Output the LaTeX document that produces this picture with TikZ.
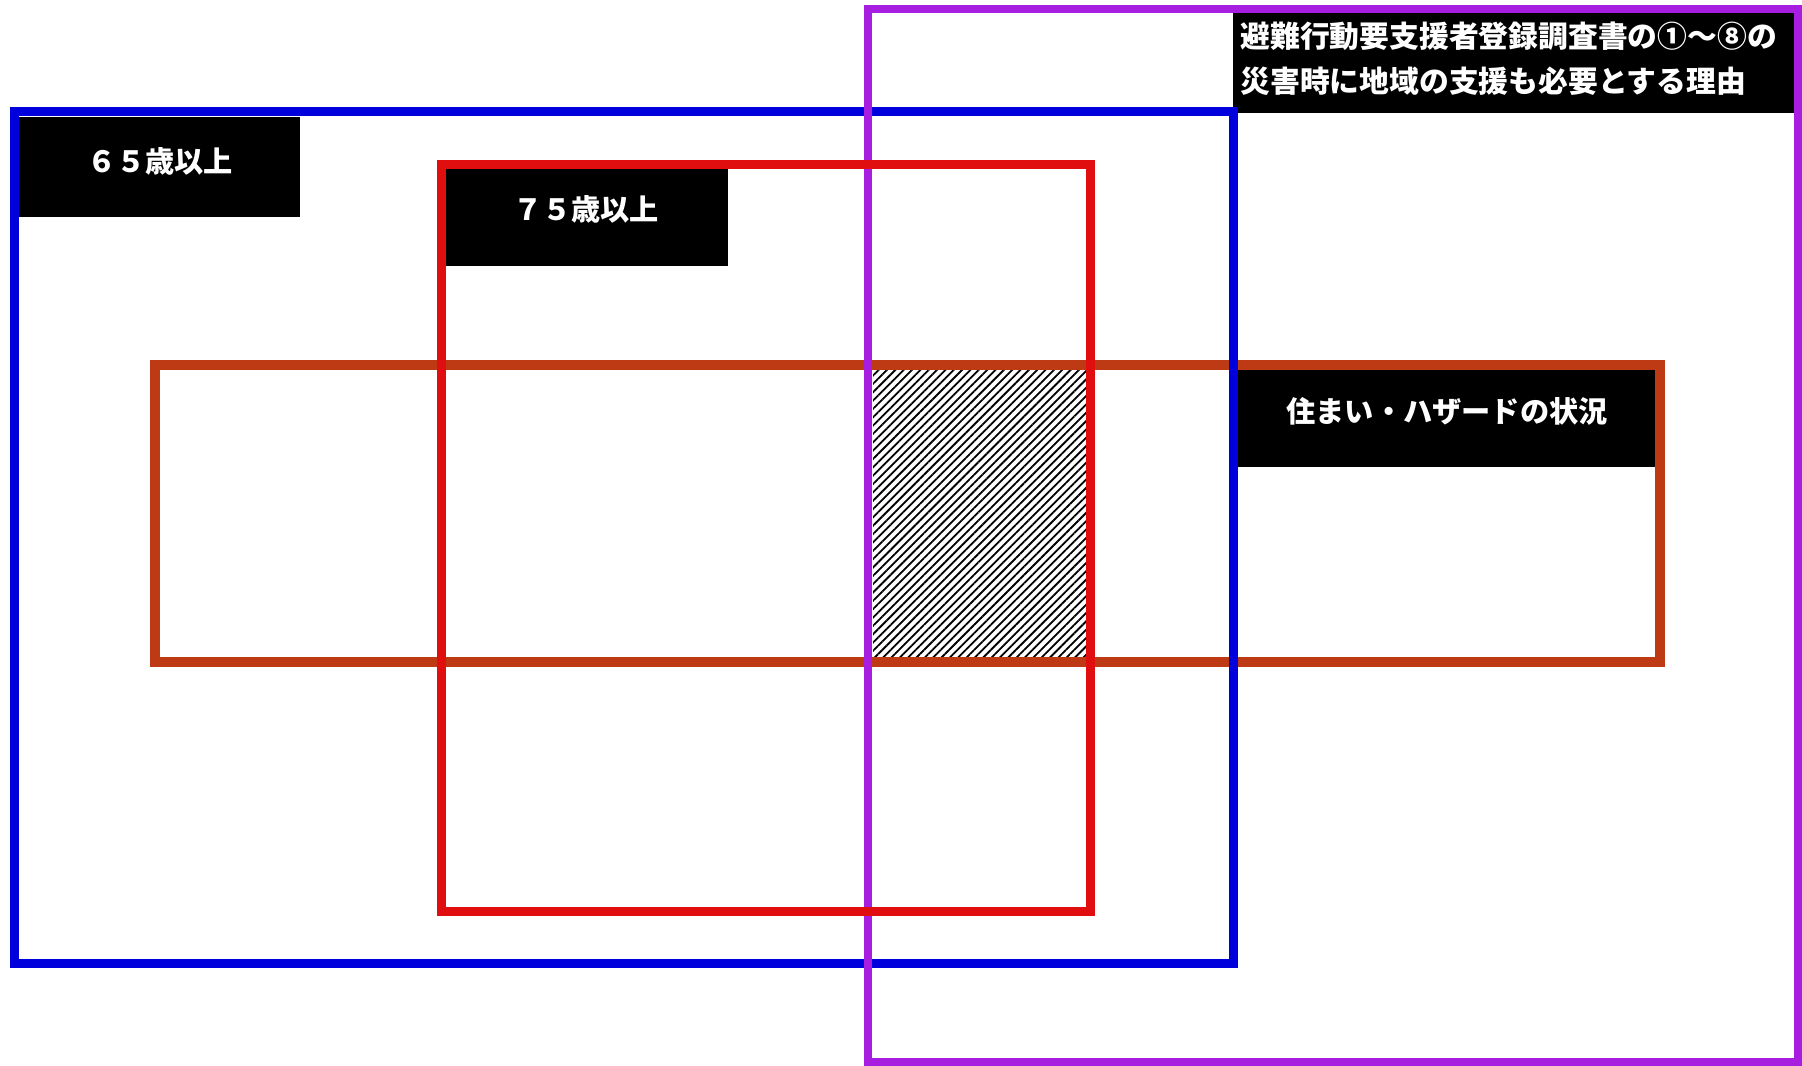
\documentclass[tikz,border=0pt]{standalone}
\usepackage{fontspec}
\newfontfamily\jp{Noto Sans CJK JP}
\usetikzlibrary{patterns.meta}
\definecolor{cblue}{HTML}{0000DD}
\definecolor{cred}{HTML}{E00E0E}
\definecolor{corange}{HTML}{BE3A14}
\definecolor{cpurple}{HTML}{A81EE0}
\tikzset{
  frame/.style={line width=4.5pt},
  blackbox/.style={fill=black},
  lbl/.style={text=white, font=\jp\bfseries\fontsize{14.6pt}{23pt}\selectfont, inner sep=0pt},
  lblwide/.style={lbl, font=\jp\bfseries\fontsize{14.9pt}{23pt}\selectfont},
  hatch/.style={pattern={Lines[angle=45,distance=2.95pt,line width=0.9pt]}, pattern color=black}
}
\begin{document}
\begin{tikzpicture}[x=0.5pt,y=-0.5pt]
\useasboundingbox (0,0) rectangle (1802,1065);
\fill[white] (0,0) rectangle (1802,1065);
% hatched intersection
\path[hatch] (873,370) rectangle (1086,657);
% label boxes
\fill[blackbox] (19,117) rectangle (300,217);
\node[lbl] (l65) at (160,161) {６５歳以上};
\fill[blackbox] (445,168) rectangle (728,266);
\node[lbl] (l75) at (586,209) {７５歳以上};
\fill[blackbox] (1237,370) rectangle (1655,467);
\node[lbl] (lhz) at (1447,411) {住まい・ハザードの状況};
\fill[blackbox] (1233,13) rectangle (1795,113);
\node[lblwide, anchor=west] (lr1) at (1240,36) {避難行動要支援者登録調査書の①～⑧の};
\node[lblwide, anchor=west] (lr2) at (1240,81) {災害時に地域の支援も必要とする理由};
% frames
\draw[frame, draw=corange, line width=5pt] (155,365) rectangle (1660,662);
\draw[frame, draw=cblue] (14,112) rectangle (1233,963);
\draw[frame, draw=cpurple, line width=4.2pt] (868,9) rectangle (1798,1062);
\draw[frame, draw=cred] (441,164) rectangle (1090,911);
\end{tikzpicture}
\end{document}
